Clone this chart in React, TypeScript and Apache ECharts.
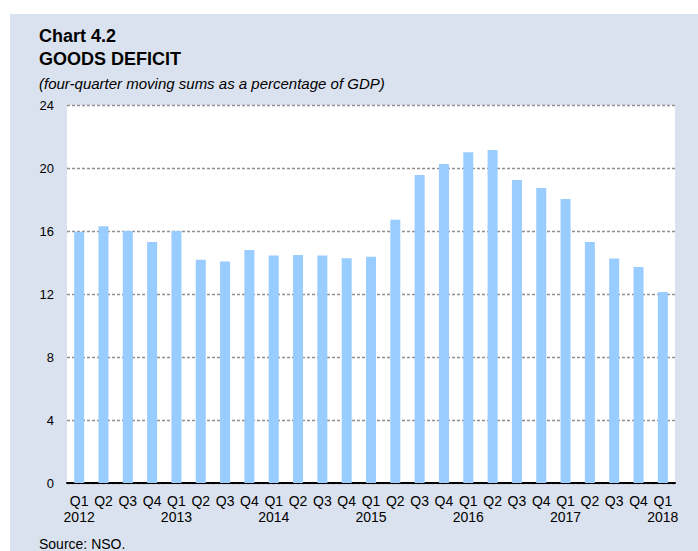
import React, { useEffect, useRef } from "react";
import * as echarts from "echarts";

const quarters = [
  "Q1", "Q2", "Q3", "Q4",
  "Q1", "Q2", "Q3", "Q4",
  "Q1", "Q2", "Q3", "Q4",
  "Q1", "Q2", "Q3", "Q4",
  "Q1", "Q2", "Q3", "Q4",
  "Q1", "Q2", "Q3", "Q4",
  "Q1",
];
const years = [
  "2012", "", "", "",
  "2013", "", "", "",
  "2014", "", "", "",
  "2015", "", "", "",
  "2016", "", "", "",
  "2017", "", "", "",
  "2018",
];
const deficit = [
  15.95, 16.3, 16.0, 15.3,
  16.0, 14.17, 14.06, 14.8,
  14.44, 14.48, 14.44, 14.27,
  14.36, 16.71, 19.55, 20.25,
  21.0, 21.15, 19.24, 18.73,
  18.03, 15.3, 14.25, 13.72,
  12.13,
];
const yTicks = { min: 0, max: 24, interval: 4 };

const categories = quarters.map((q, i) => (years[i] ? q + "\n" + years[i] : q));

export default function App() {
  const ref = useRef<HTMLDivElement>(null);
  useEffect(() => {
    if (!ref.current) return;
    const chart = echarts.init(ref.current, null, { renderer: "svg" });
    const font = "Arial, 'Liberation Sans', sans-serif";
    chart.setOption({
      animation: false,
      backgroundColor: "#ffffff",
      textStyle: { fontFamily: font },
      graphic: [
        {
          type: "rect",
          z: -10,
          shape: { x: 10, y: 14, width: 700, height: 560 },
          style: { fill: "#dbe2ef" },
          silent: true,
        },
        {
          type: "text",
          left: 39,
          top: 27,
          style: { text: "Chart 4.2", font: "bold 18px " + font, fill: "#000" },
        },
        {
          type: "text",
          left: 39,
          top: 50,
          style: { text: "GOODS DEFICIT", font: "bold 18px " + font, fill: "#000" },
        },
        {
          type: "text",
          left: 39,
          top: 76,
          style: {
            text: "(four-quarter moving sums as a percentage of GDP)",
            font: "italic 15px " + font,
            fill: "#000",
          },
        },
        {
          type: "text",
          left: 39,
          top: 537,
          style: { text: "Source: NSO.", font: "14px " + font, fill: "#000" },
        },
      ],
      grid: {
        left: 67,
        right: 23,
        top: 105,
        bottom: 68,
        show: true,
        backgroundColor: "#ffffff",
        borderWidth: 0,
      },
      xAxis: {
        type: "category",
        data: categories,
        axisLine: { show: true, lineStyle: { color: "#000", width: 2 } },
        axisTick: { show: false },
        axisLabel: {
          color: "#000",
          fontSize: 14,
          fontFamily: font,
          margin: 10,
          lineHeight: 16,
          interval: 0,
        },
      },
      yAxis: {
        type: "value",
        min: yTicks.min,
        max: yTicks.max,
        interval: yTicks.interval,
        axisLine: { show: false },
        axisTick: { show: false },
        axisLabel: { color: "#000", fontSize: 13, fontFamily: font, margin: 13 },
        splitLine: {
          show: true,
          lineStyle: { color: "#8f8f8f", type: [3, 2], width: 1.3 },
        },
      },
      series: [
        {
          type: "bar",
          data: deficit,
          barWidth: 10,
          itemStyle: { color: "#99ccff" },
        },
      ],
    });
    return () => chart.dispose();
  }, []);
  return (
    <div
      ref={ref}
      style={{ position: "absolute", left: 0, top: 0, width: 698, height: 551 }}
    />
  );
}
